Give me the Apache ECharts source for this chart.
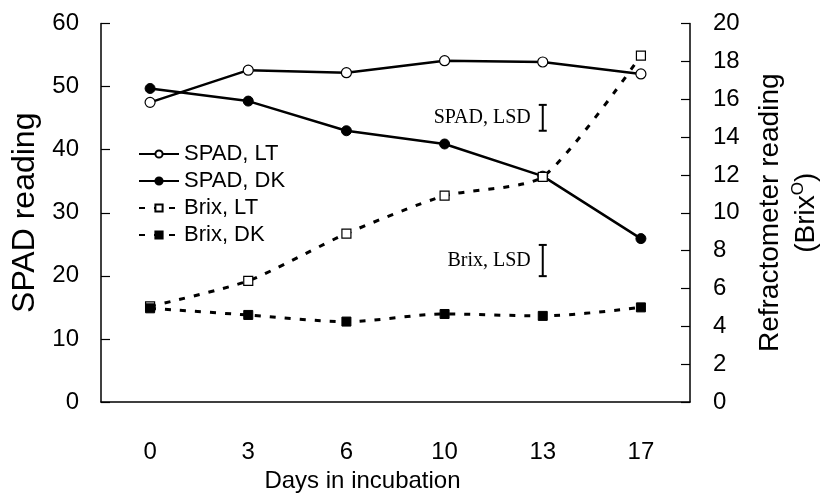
<!DOCTYPE html>
<html>
<head>
<meta charset="utf-8">
<script src="https://cdn.jsdelivr.net/npm/echarts@6/dist/echarts.min.js"></script>
<style>
html,body{margin:0;padding:0;background:#fff;}
#chart{width:824px;height:493px;}
</style>
</head>
<body>
<div id="chart"></div>
<script>
// ---- data ----
const categories = ['0', '3', '6', '10', '13', '17'];
const spadLT = [47.5, 52.6, 52.2, 54.1, 53.9, 52.0];
const spadDK = [49.7, 47.7, 43.0, 40.9, 35.8, 25.9];
const brixLT = [5.05, 6.4, 8.9, 10.9, 11.9, 18.3];
const brixDK = [4.95, 4.6, 4.25, 4.65, 4.55, 5.0];
const spadLsd = ['13', 43.0, 47.1];
const brixLsd = ['13', 6.65, 8.3];
const seriesNames = ['SPAD, LT', 'SPAD, DK', 'Brix, LT', 'Brix, DK'];
const lsdLabels = ['SPAD, LSD', 'Brix, LSD'];

const FONT = '"Liberation Sans", Arial, sans-serif';
const SERIF = '"Liberation Serif", "Times New Roman", serif';

function lsdRender(labelText) {
  return function (params, api) {
    const top = api.coord([api.value(0), api.value(2)]);
    const bot = api.coord([api.value(0), api.value(1)]);
    const x = top[0];
    const cap = 4;
    const st = { stroke: '#000', lineWidth: 2 };
    return {
      type: 'group',
      children: [
        { type: 'line', shape: { x1: x, y1: top[1], x2: x, y2: bot[1] }, style: st },
        { type: 'line', shape: { x1: x - cap, y1: top[1], x2: x + cap, y2: top[1] }, style: st },
        { type: 'line', shape: { x1: x - cap, y1: bot[1], x2: x + cap, y2: bot[1] }, style: st },
        { type: 'text', x: x - 12, y: (top[1] + bot[1]) / 2,
          style: { text: labelText, fill: '#000', font: '20px ' + SERIF,
                   align: 'right', verticalAlign: 'middle' } }
      ]
    };
  };
}

const chart = echarts.init(document.getElementById('chart'));
chart.setOption({
  animation: false,
  backgroundColor: '#fff',
  textStyle: { fontFamily: FONT, color: '#000' },
  grid: { left: 101, right: 134, top: 23.5, bottom: 91, containLabel: false, outerBoundsMode: 'none' },
  legend: {
    orient: 'vertical',
    left: 133,
    top: 138,
    itemWidth: 40,
    itemHeight: 9,
    itemGap: 5,
    data: seriesNames,
    textStyle: { fontFamily: FONT, fontSize: 22, color: '#000' }
  },
  xAxis: {
    type: 'category',
    data: categories,
    boundaryGap: true,
    name: 'Days in incubation',
    nameLocation: 'middle',
    nameGap: 61,
    nameTextStyle: { fontFamily: FONT, fontSize: 24, color: '#000', padding: [0, 66, 0, 0] },
    axisLine: { lineStyle: { color: '#000', width: 1.5 } },
    axisTick: { inside: true, length: 10, lineStyle: { color: '#000', width: 1.2 } },
    axisLabel: { margin: 38, fontFamily: FONT, fontSize: 24, color: '#000' },
    splitLine: { show: false }
  },
  yAxis: [
    {
      type: 'value', min: 0, max: 60, interval: 10,
      name: 'SPAD reading',
      nameLocation: 'middle',
      nameGap: 60,
      nameTextStyle: { fontFamily: FONT, fontSize: 32, color: '#000' },
      axisLine: { show: true, lineStyle: { color: '#000', width: 1.5 } },
      axisTick: { show: true, inside: true, length: 9, lineStyle: { color: '#000', width: 1.2 } },
      axisLabel: { margin: 22, fontFamily: FONT, fontSize: 24, color: '#000' },
      splitLine: { show: false }
    },
    {
      type: 'value', min: 0, max: 20, interval: 2,
      position: 'right',
      name: 'Refractometer reading\n(Brix{sup|O})',
      nameLocation: 'middle',
      nameRotate: 90,
      nameGap: 62,
      nameTextStyle: {
        fontFamily: FONT, fontSize: 28, color: '#000', lineHeight: 36,
        rich: { sup: { fontFamily: FONT, fontSize: 17, color: '#000', padding: [0, 0, 16, 0] } }
      },
      axisLine: { show: true, lineStyle: { color: '#000', width: 1.5 } },
      axisTick: { show: true, inside: true, length: 9, lineStyle: { color: '#000', width: 1.2 } },
      axisLabel: { margin: 23, fontFamily: FONT, fontSize: 24, color: '#000' },
      splitLine: { show: false }
    }
  ],
  series: [
    {
      name: seriesNames[0], type: 'line', yAxisIndex: 0, data: spadLT,
      symbol: 'circle', symbolSize: 10,
      lineStyle: { color: '#000', width: 2.5 },
      itemStyle: { color: '#fff', borderColor: '#000', borderWidth: 1.2 }
    },
    {
      name: seriesNames[1], type: 'line', yAxisIndex: 0, data: spadDK,
      symbol: 'circle', symbolSize: 10,
      lineStyle: { color: '#000', width: 2.5 },
      itemStyle: { color: '#000', borderColor: '#000', borderWidth: 1 }
    },
    {
      name: seriesNames[2], type: 'line', yAxisIndex: 1, data: brixLT,
      symbol: 'rect', symbolSize: 9, smooth: 0.22,
      lineStyle: { color: '#000', width: 3, type: [6, 9] },
      itemStyle: { color: '#fff', borderColor: '#000', borderWidth: 1.2 }
    },
    {
      name: seriesNames[3], type: 'line', yAxisIndex: 1, data: brixDK,
      symbol: 'rect', symbolSize: 9, smooth: 0.3,
      lineStyle: { color: '#000', width: 3, type: [6, 9] },
      itemStyle: { color: '#000', borderColor: '#000', borderWidth: 1 }
    },
    {
      name: lsdLabels[0], type: 'custom', yAxisIndex: 0,
      renderItem: lsdRender(lsdLabels[0]), data: [spadLsd], z: 5
    },
    {
      name: lsdLabels[1], type: 'custom', yAxisIndex: 1,
      renderItem: lsdRender(lsdLabels[1]), data: [brixLsd], z: 5
    }
  ]
});
</script>
</body>
</html>
